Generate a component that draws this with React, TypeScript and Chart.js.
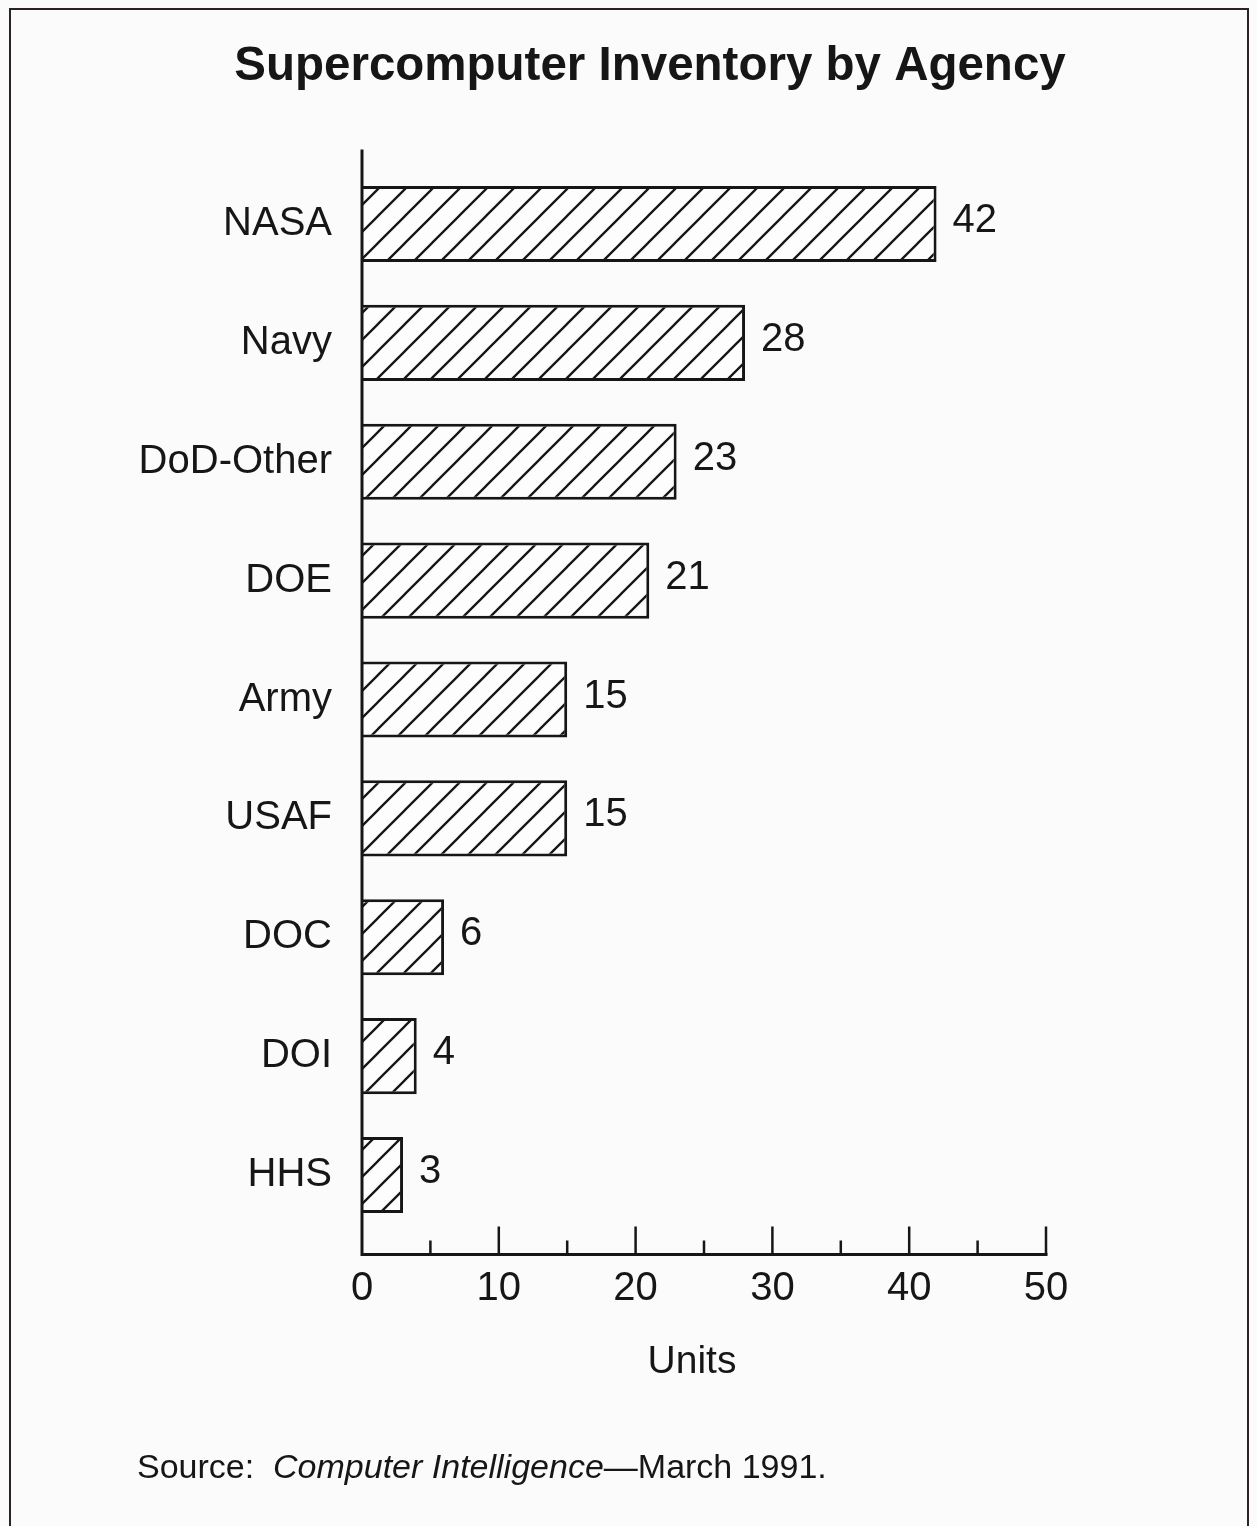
import React, { useEffect, useRef } from 'react';
import { Chart, registerables } from 'chart.js';

Chart.register(...registerables);

const agencies = ['NASA', 'Navy', 'DoD-Other', 'DOE', 'Army', 'USAF', 'DOC', 'DOI', 'HHS'];
const units = [42, 28, 23, 21, 15, 15, 6, 4, 3];
const majorTicks = [0, 10, 20, 30, 40, 50];
const minorTicks = [5, 15, 25, 35, 45];
const titleText = 'Supercomputer Inventory by Agency';
const axisTitle = 'Units';
const sourceParts = [
  { text: 'Source:  ', italic: false },
  { text: 'Computer Intelligence', italic: true },
  { text: '\u2014March 1991.', italic: false },
];

const FAMILY = '"Liberation Sans", Arial, Helvetica, sans-serif';
const INK = '#161616';
const W = 1257;
const H = 1526;

function makeHatch(): CanvasPattern | string {
  const s = 27;
  const c = document.createElement('canvas');
  c.width = s;
  c.height = s;
  const g = c.getContext('2d');
  if (!g) return '#ffffff';
  g.fillStyle = '#fdfdfd';
  g.fillRect(0, 0, s, s);
  g.strokeStyle = INK;
  g.lineWidth = 2.3;
  g.beginPath();
  g.moveTo(-2, s + 2);
  g.lineTo(s + 2, -2);
  g.moveTo(-2, 2);
  g.lineTo(2, -2);
  g.moveTo(s - 2, s + 2);
  g.lineTo(s + 2, s - 2);
  g.stroke();
  const p = g.createPattern(c, 'repeat');
  return p || '#ffffff';
}

const decorPlugin = {
  id: 'decor',
  beforeDraw(chart: any) {
    const ctx = chart.ctx;
    ctx.save();
    ctx.fillStyle = '#fbfbfb';
    ctx.fillRect(0, 0, W, H);
    // frame
    ctx.strokeStyle = '#2a2226';
    ctx.lineWidth = 2;
    ctx.beginPath();
    ctx.moveTo(10, H);
    ctx.lineTo(10, 9);
    ctx.lineTo(1248, 9);
    ctx.lineTo(1248, H);
    ctx.stroke();
    // title
    ctx.fillStyle = INK;
    ctx.font = `bold 47.5px ${FAMILY}`;
    ctx.textAlign = 'center';
    ctx.textBaseline = 'alphabetic';
    ctx.fillText(titleText, 650, 80);
    ctx.restore();
  },
  afterDatasetsDraw(chart: any) {
    const ctx = chart.ctx;
    const xs = chart.scales.x;
    const area = chart.chartArea;
    const x0 = xs.getPixelForValue(0);
    const axisY = area.bottom + 20;
    ctx.save();
    ctx.strokeStyle = INK;
    ctx.lineWidth = 3;
    ctx.lineCap = 'butt';
    ctx.beginPath();
    ctx.moveTo(x0, area.top - 15);
    ctx.lineTo(x0, axisY + 1.5);
    ctx.moveTo(x0 - 1.5, axisY);
    ctx.lineTo(xs.getPixelForValue(50) + 1.5, axisY);
    ctx.stroke();
    ctx.lineWidth = 2.5;
    ctx.beginPath();
    majorTicks.forEach((v) => {
      if (v === 0) return;
      const px = xs.getPixelForValue(v);
      ctx.moveTo(px, axisY);
      ctx.lineTo(px, axisY - 28);
    });
    minorTicks.forEach((v) => {
      const px = xs.getPixelForValue(v);
      ctx.moveTo(px, axisY);
      ctx.lineTo(px, axisY - 14);
    });
    ctx.stroke();

    // value labels
    const meta = chart.getDatasetMeta(0);
    ctx.fillStyle = INK;
    ctx.font = `40px ${FAMILY}`;
    ctx.textAlign = 'left';
    ctx.textBaseline = 'middle';
    meta.data.forEach((el: any, i: number) => {
      ctx.fillText(String(units[i]), el.x + 16, el.y - 3);
    });

    // axis title
    ctx.textAlign = 'center';
    ctx.textBaseline = 'middle';
    ctx.font = `39px ${FAMILY}`;
    ctx.fillText(axisTitle, 692, 1362);

    // source line
    ctx.textAlign = 'left';
    ctx.textBaseline = 'alphabetic';
    let sx = 137;
    sourceParts.forEach((p) => {
      ctx.font = `${p.italic ? 'italic ' : ''}34px ${FAMILY}`;
      ctx.fillText(p.text, sx, 1478);
      sx += ctx.measureText(p.text).width;
    });
    ctx.restore();
  },
};

export default function App() {
  const ref = useRef<HTMLCanvasElement | null>(null);
  useEffect(() => {
    const canvas = ref.current;
    if (!canvas) return;
    const hatch = makeHatch();
    const chart = new Chart(canvas, {
      type: 'bar',
      data: {
        labels: agencies,
        datasets: [
          {
            data: units,
            backgroundColor: hatch as any,
            borderColor: INK,
            borderWidth: 3,
            barPercentage: 0.64,
            categoryPercentage: 1,
          },
        ],
      },
      options: {
        indexAxis: 'y',
        responsive: false,
        animation: false,
        devicePixelRatio: 1,
        layout: { padding: { left: 0, right: 211, top: 164.6, bottom: 191.6 } },
        scales: {
          x: {
            type: 'linear',
            min: 0,
            max: 50,
            grid: { display: false, drawTicks: false },
            border: { display: false },
            ticks: {
              stepSize: 10,
              padding: 31,
              maxRotation: 0,
              color: INK,
              font: { size: 40, family: FAMILY },
            },
            afterFit: (s: any) => {
              s.height = 100;
            },
          },
          y: {
            type: 'category',
            grid: { display: false, drawTicks: false },
            border: { display: false },
            ticks: {
              padding: 30,
              color: INK,
              font: { size: 40, family: FAMILY },
            },
            afterFit: (s: any) => {
              s.width = 362;
            },
          },
        },
        plugins: {
          legend: { display: false },
          tooltip: { enabled: false },
          title: { display: false },
        },
      },
      plugins: [decorPlugin],
    });
    return () => chart.destroy();
  }, []);
  return (
    <div style={{ position: 'absolute', left: 0, top: 0, width: W, height: H }}>
      <canvas ref={ref} width={W} height={H} style={{ width: W, height: H, display: 'block' }} />
    </div>
  );
}
